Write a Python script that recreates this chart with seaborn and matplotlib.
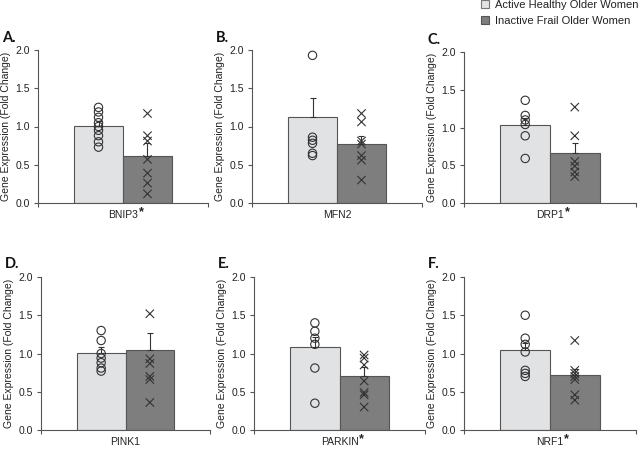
import numpy as np
import pandas as pd
import seaborn as sns
import matplotlib.pyplot as plt
from matplotlib.patches import Patch

# Groups and genes
groups = ["Active Healthy Older Women", "Inactive Frail Older Women"]
genes = ["BNIP3", "MFN2", "DRP1", "PINK1", "PARKIN", "NRF1"]
panel_letters = ["A.", "B.", "C.", "D.", "E.", "F."]
significant = [True, False, True, False, True, True]

# Bar heights (mean fold change) and upper SEM.
active_means = [1.01, 1.13, 1.03, 1.01, 1.08, 1.04]
active_sem = [0.06, 0.24, 0.09, 0.07, 0.13, 0.10]
frail_means = [0.62, 0.77, 0.66, 1.05, 0.70, 0.72]
frail_sem = [0.16, 0.11, 0.13, 0.22, 0.12, 0.08]

# Individual subjects.
active_points = [
    [1.25, 1.19, 1.12, 1.05, 1.00, 0.95, 0.88, 0.80, 0.73],
    [1.93, 0.86, 0.82, 0.78, 0.65, 0.62],
    [1.36, 1.16, 1.10, 1.04, 0.89, 0.59],
    [1.30, 1.17, 1.00, 0.94, 0.88, 0.81, 0.77],
    [1.40, 1.29, 1.20, 1.12, 0.81, 0.35],
    [1.50, 1.20, 1.12, 1.02, 0.78, 0.74, 0.70],
]
frail_points = [
    [1.17, 0.88, 0.81, 0.57, 0.39, 0.26, 0.12],
    [1.17, 1.06, 0.81, 0.77, 0.62, 0.56, 0.30],
    [1.27, 0.89, 0.55, 0.49, 0.41, 0.35],
    [1.52, 0.93, 0.87, 0.70, 0.66, 0.36],
    [0.98, 0.94, 0.85, 0.64, 0.49, 0.46, 0.30],
    [1.17, 0.78, 0.74, 0.70, 0.66, 0.46, 0.39],
]

light = "#e1e2e4"
dark = "#7e7e7e"
ink = "#333333"

sns.set_style("ticks")
plt.rcParams["font.family"] = ["Liberation Sans", "DejaVu Sans"]

fig = plt.figure(figsize=(6.4, 4.5), dpi=100)

# Axes boxes in pixels: left, top, width, height
boxes = [(38, 50, 170, 153), (252, 50, 170, 153), (464, 52, 172, 151),
         (41, 277, 169, 153), (254, 277, 171, 153), (464, 277, 172, 153)]

axes = []
for i, gene in enumerate(genes):
    l, t, w, h = boxes[i]
    ax = fig.add_axes([l / 640, (450 - t - h) / 450, w / 640, h / 450])
    axes.append(ax)

    bar_df = pd.DataFrame({"gene": [gene, gene], "group": groups,
                           "mean": [active_means[i], frail_means[i]]})
    sns.barplot(data=bar_df, x="gene", y="mean", hue="group", hue_order=groups,
                palette=[light, dark], errorbar=None, width=0.8,
                edgecolor="#555555", linewidth=0.8, legend=False, ax=ax, zorder=2)

    # One-sided SEM bars on top of each bar
    bars = sorted(ax.patches, key=lambda p: p.get_x())
    for bar, s in zip(bars, [active_sem[i], frail_sem[i]]):
        ax.errorbar(bar.get_x() + bar.get_width() / 2, bar.get_height(),
                    yerr=[[0], [s]], fmt="none", ecolor=ink, elinewidth=0.8,
                    capsize=2.5, capthick=0.8, zorder=3)

    pts = pd.DataFrame({
        "gene": gene,
        "group": [groups[0]] * len(active_points[i]) + [groups[1]] * len(frail_points[i]),
        "value": active_points[i] + frail_points[i],
    })
    n_before = len(ax.collections)
    sns.stripplot(data=pts[pts.group == groups[0]], x="gene", y="value",
                  hue="group", hue_order=groups, palette=[ink, ink],
                  dodge=True, jitter=False, marker="o", size=6,
                  edgecolor=ink, linewidth=0.8, legend=False, ax=ax, zorder=4)
    for coll in ax.collections[n_before:]:
        coll.set_facecolor("none")
        coll.set_edgecolor(ink)
    sns.stripplot(data=pts[pts.group == groups[1]], x="gene", y="value",
                  hue="group", hue_order=groups, palette=[ink, ink],
                  dodge=True, jitter=False, marker="x", size=6,
                  linewidth=0.8, legend=False, ax=ax, zorder=4)

    ax.set_xlim(-0.694, 0.694)
    ax.set_ylim(0, 2.0)
    ax.set_yticks([0, 0.5, 1.0, 1.5, 2.0])
    ax.set_yticklabels(["0.0", "0.5", "1.0", "1.5", "2.0"])
    ax.set_xticks([0])
    ax.set_xticklabels([gene])
    ax.set_xticks([-0.694, 0.694], minor=True)
    ax.tick_params(axis="x", which="major", length=0, pad=5, labelsize=7.5, colors="#222222")
    ax.tick_params(axis="x", which="minor", length=3, width=0.8, color="#555555")
    ax.tick_params(axis="y", length=3, width=0.8, pad=3, labelsize=7.5,
                   color="#555555", labelcolor="#222222")
    ax.set_xlabel("")
    ax.set_ylabel("Gene Expression (Fold Change)", fontsize=7.5, color="#222222", labelpad=3)
    sns.despine(ax=ax)
    for side in ["left", "bottom"]:
        ax.spines[side].set_linewidth(0.8)
        ax.spines[side].set_color("#555555")
    ax.spines["bottom"].set_zorder(5)

    ax.annotate(panel_letters[i], xy=(0, 1), xycoords="axes fraction",
                xytext=(-26, 9), textcoords="offset points", ha="left", va="center",
                fontsize=10.5, fontweight="bold", family="Lato", color="#111111")

# Significance star raised after the gene name
fig.canvas.draw()
for ax, sig in zip(axes, significant):
    if not sig:
        continue
    lab = ax.get_xticklabels()[0]
    bb = lab.get_window_extent()
    ax.annotate("*", xy=(bb.x1, bb.y1), xycoords="figure pixels",
                xytext=(0.5, 2.5), textcoords="offset points", ha="left", va="top",
                fontsize=9, fontweight="bold", color="#222222")

handles = [Patch(facecolor=light, edgecolor="#777777", linewidth=0.8),
           Patch(facecolor=dark, edgecolor="#555555", linewidth=0.8)]
fig.legend(handles=handles, labels=groups, loc="upper left",
           bbox_to_anchor=(481 / 640, 1.0), frameon=False, fontsize=8,
           handlelength=0.75, handleheight=0.75, handletextpad=0.5,
           labelspacing=0.55, borderpad=0.0, borderaxespad=0.0, labelcolor="#222222")

fig.savefig("out.png", dpi=100)
